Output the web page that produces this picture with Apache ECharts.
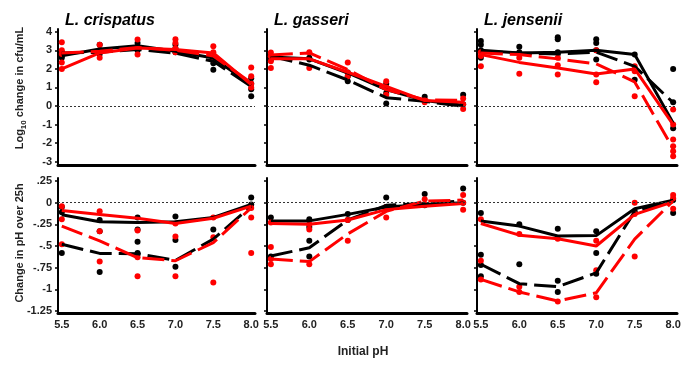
<!DOCTYPE html>
<html>
<head>
<meta charset="utf-8">
<script src="https://cdn.jsdelivr.net/npm/echarts@6/dist/echarts.min.js"></script>
<style>
  html, body { margin: 0; padding: 0; background: #fff; }
  #chart { width: 694px; height: 366px; }
</style>
</head>
<body>
<div id="chart"></div>
<script>
// x categories (initial pH) and axis ticks
const PH = [5.5, 6.0, 6.5, 7.0, 7.5, 8.0];
const panelTitles = ['L. crispatus', 'L. gasseri', 'L. jensenii'];
const cfuTicks = [4, 3, 2, 1, 0, -1, -2, -3];
const phTicks = [0.25, 0, -0.25, -0.5, -0.75, -1, -1.25];

// top row: log10 change in cfu/mL (means)
const crispCfuBlack = [2.71, 3.07, 3.25, 2.95, 2.59, 1.15];
const crispCfuBlackDash = [2.85, 2.9, 3.05, 2.85, 2.41, 1.06];
const crispCfuRed = [2.0, 2.86, 3.13, 3.04, 2.86, 1.15];
const crispCfuRedDash = [2.86, 2.95, 3.15, 3.0, 2.7, 1.25];

const gassCfuBlack = [2.64, 2.54, 1.78, 0.88, 0.29, 0.04];
const gassCfuBlackDash = [2.68, 2.2, 1.4, 0.45, 0.25, -0.02];
const gassCfuRed = [2.54, 2.54, 1.82, 1.06, 0.29, 0.2];
const gassCfuRedDash = [2.75, 2.86, 1.96, 0.88, 0.34, 0.3];

const jensCfuBlack = [3.0, 2.86, 2.9, 3.0, 2.77, -0.91];
const jensCfuBlackDash = [2.95, 2.85, 2.8, 2.9, 2.14, 0.18];
const jensCfuRed = [2.77, 2.35, 2.05, 1.73, 2.0, -1.0];
const jensCfuRedDash = [2.86, 2.77, 2.54, 2.27, 1.3, -2.3];

// top row replicates (one list per pH)
const crispCfuBlackPts = [[2.7, 2.9, 2.6], [3.3, 3.0, 2.8], [3.4, 3.2, 3.0], [3.3, 3.1, 2.9], [2.5, 2.3, 1.96], [0.52, 1.2, 1.5, 0.9]];
const crispCfuRedPts = [[3.43, 3.0, 2.8, 2.35, 2.0], [3.3, 3.0, 2.6], [3.58, 3.1, 2.77], [3.6, 3.4, 3.1, 2.9], [3.22, 2.9, 2.5], [2.08, 1.6, 1.2, 1.0]];
const gassCfuBlackPts = [[2.7, 2.5], [2.6, 2.5], [1.33, 1.8, 1.6], [0.13, 0.7, 1.2], [0.5, 0.3], [0.61, 0.1]];
const gassCfuRedPts = [[2.89, 2.68, 2.41, 2.05], [2.9, 2.05], [2.35, 1.8, 1.6], [1.33, 1.0, 0.6], [0.3, 0.2], [0.4, 0.1, -0.16]];
const jensCfuBlackPts = [[3.5, 3.3, 3.0, 2.6], [3.2, 2.9], [3.7, 3.6, 2.9], [3.6, 3.4, 3.0, 2.5], [2.77, 1.42], [2.0, 0.2, -1.2]];
const jensCfuRedPts = [[2.9, 2.7, 2.14], [2.6, 1.74], [2.6, 2.2, 1.7], [3.0, 1.7, 1.28], [2.14, 1.87, 0.52], [-0.19, -1.0, -1.8, -2.17, -2.44, -2.71]];

// bottom row: change in pH over 25h (means)
const crispPhBlack = [-0.14, -0.22, -0.23, -0.22, -0.17, -0.02];
const crispPhBlackDash = [-0.48, -0.585, -0.59, -0.665, -0.42, -0.04];
const crispPhRed = [-0.09, -0.135, -0.18, -0.24, -0.18, -0.04];
const crispPhRedDash = [-0.27, -0.44, -0.635, -0.67, -0.46, -0.06];

const gassPhBlack = [-0.21, -0.21, -0.135, -0.05, -0.02, 0.0];
const gassPhBlackDash = [-0.615, -0.52, -0.2, -0.03, -0.01, 0.02];
const gassPhRed = [-0.24, -0.25, -0.2, -0.08, -0.04, -0.01];
const gassPhRedDash = [-0.65, -0.68, -0.36, -0.1, 0.02, 0.03];

const jensPhBlack = [-0.21, -0.27, -0.385, -0.38, -0.07, 0.03];
const jensPhBlackDash = [-0.71, -0.935, -0.97, -0.81, -0.1, 0.02];
const jensPhRed = [-0.24, -0.375, -0.415, -0.5, -0.135, 0.01];
const jensPhRedDash = [-0.885, -1.03, -1.135, -1.04, -0.42, 0.02];

// bottom row replicates
const crispPhBlackPts = [[-0.05, -0.11, -0.58], [-0.2, -0.33, -0.8], [-0.17, -0.31, -0.45, -0.58], [-0.16, -0.43, -0.74], [-0.31], [0.06, -0.02]];
const crispPhRedPts = [[-0.04, -0.19, -0.48], [-0.1, -0.33, -0.68], [-0.32, -0.63, -0.85], [-0.24, -0.39, -0.85], [-0.17, -0.4, -0.92], [-0.06, -0.17, -0.58]];
const gassPhBlackPts = [[-0.17, -0.62], [-0.19, -0.28, -0.44, -0.62], [-0.13, -0.2], [0.06, -0.05], [0.1, -0.03], [0.165, 0.0]];
const gassPhRedPts = [[-0.23, -0.51, -0.65, -0.71], [-0.25, -0.31, -0.71], [-0.2, -0.44], [-0.17, -0.05], [0.04, -0.02], [0.09, -0.08, 0.0]];
const jensPhBlackPts = [[-0.12, -0.6, -0.72, -0.85], [-0.25, -0.71], [-0.3, -0.9, -1.03], [-0.33, -0.58, -0.82], [-0.1], [-0.12, 0.03]];
const jensPhRedPts = [[-0.19, -0.67, -0.885], [-0.36, -0.97, -1.03], [-0.415, -1.14], [-0.44, -0.78, -1.09], [0.0, -0.62, -0.13], [0.09, -0.07, 0.05]];

const panels = [
  { lines: [crispCfuBlack, crispCfuBlackDash, crispCfuRed, crispCfuRedDash], dots: [crispCfuBlackPts, crispCfuRedPts] },
  { lines: [gassCfuBlack, gassCfuBlackDash, gassCfuRed, gassCfuRedDash], dots: [gassCfuBlackPts, gassCfuRedPts] },
  { lines: [jensCfuBlack, jensCfuBlackDash, jensCfuRed, jensCfuRedDash], dots: [jensCfuBlackPts, jensCfuRedPts] },
  { lines: [crispPhBlack, crispPhBlackDash, crispPhRed, crispPhRedDash], dots: [crispPhBlackPts, crispPhRedPts] },
  { lines: [gassPhBlack, gassPhBlackDash, gassPhRed, gassPhRedDash], dots: [gassPhBlackPts, gassPhRedPts] },
  { lines: [jensPhBlack, jensPhBlackDash, jensPhRed, jensPhRedDash], dots: [jensPhBlackPts, jensPhRedPts] }
];

const FONT = 'Liberation Sans, Arial, sans-serif';
const colLeft = [58, 267, 477];
const colWidth = [197, 200, 200];
const rowTop = [29, 178];
const rowHeight = [136, 135];

const fmtPh = v => (v === 0 ? '0' : String(v).replace('0.', '.'));

const grids = [], xAxes = [], yAxes = [], series = [];
panels.forEach((p, i) => {
  const row = Math.floor(i / 3), col = i % 3;
  grids.push({ left: colLeft[col], top: rowTop[row], width: colWidth[col], height: rowHeight[row], outerBoundsMode: 'none' });
  xAxes.push({
    type: 'value', gridIndex: i, min: 5.45, max: 8.05,
    axisLine: { onZero: false, lineStyle: { color: '#000', width: 3 } },
    axisTick: { show: false },
    splitLine: { show: false },
    axisLabel: {
      show: row === 1, customValues: PH, margin: 6,
      formatter: v => v.toFixed(1),
      color: '#222', fontSize: 11, fontWeight: 'bold', fontFamily: FONT
    }
  });
  yAxes.push({
    type: 'value', gridIndex: i,
    min: row === 0 ? -3.18 : -1.273, max: row === 0 ? 4.15 : 0.285,
    axisLine: { show: true, onZero: false, lineStyle: { color: '#000', width: 2 } },
    axisTick: { show: true, length: 3, customValues: row === 0 ? cfuTicks : phTicks, lineStyle: { color: '#000', width: 1.5 } },
    splitLine: { show: false },
    axisLabel: {
      show: col === 0, customValues: row === 0 ? cfuTicks : phTicks, margin: 6,
      formatter: row === 0 ? (v => String(v)) : fmtPh,
      color: '#222', fontSize: 11, fontWeight: 'bold', fontFamily: FONT
    }
  });

  const pts = arr => arr.flatMap((vals, k) => vals.map(v => [PH[k], v]));
  const line = (vals, color, dashed) => ({
    type: 'line', xAxisIndex: i, yAxisIndex: i, silent: true, animation: false,
    symbol: 'none', data: PH.map((x, k) => [x, vals[k]]),
    lineStyle: { color: color, width: 3, type: dashed ? [22, 7] : 'solid' }
  });
  const dot = (arr, color) => ({
    type: 'scatter', xAxisIndex: i, yAxisIndex: i, silent: true, animation: false,
    symbol: 'circle', symbolSize: 6, data: pts(arr), itemStyle: { color: color, opacity: 1 }
  });

  const blackDots = dot(p.dots[0], '#000');
  blackDots.markLine = {
    silent: true, symbol: ['none', 'none'], label: { show: false }, animation: false,
    lineStyle: { color: '#333', width: 1, type: [2, 2] },
    data: [{ yAxis: 0 }]
  };
  series.push(blackDots);
  series.push(line(p.lines[0], '#000', false));
  series.push(line(p.lines[1], '#000', true));
  series.push(dot(p.dots[1], '#ff0000'));
  series.push(line(p.lines[2], '#ff0000', false));
  series.push(line(p.lines[3], '#ff0000', true));
});

const titleFont = 'italic bold 16px ' + FONT;
const graphics = panelTitles.map((t, c) => ({
  type: 'text', left: colLeft[c] + 7, top: 13,
  style: { text: t, font: titleFont, fill: '#000' }
}));
graphics.push({
  type: 'text', x: 20, y: 88, rotation: Math.PI / 2,
  style: {
    text: '{a|Log}{s|10}{a| change in cfu/mL}', align: 'center', verticalAlign: 'middle',
    rich: {
      a: { fontSize: 11, fontWeight: 'bold', fontFamily: FONT, fill: '#222', lineHeight: 16, verticalAlign: 'middle' },
      s: { fontSize: 8, fontWeight: 'bold', fontFamily: FONT, fill: '#222', lineHeight: 16, verticalAlign: 'bottom' }
    }
  }
});
graphics.push({
  type: 'text', x: 20, y: 243, rotation: Math.PI / 2,
  style: { text: 'Change in pH over 25h', align: 'center', verticalAlign: 'middle', font: 'bold 11px ' + FONT, fill: '#222' }
});
graphics.push({
  type: 'text', x: 363, y: 352,
  style: { text: 'Initial pH', align: 'center', verticalAlign: 'middle', font: 'bold 12px ' + FONT, fill: '#222' }
});

const chart = echarts.init(document.getElementById('chart'));
chart.setOption({
  animation: false,
  grid: grids,
  xAxis: xAxes,
  yAxis: yAxes,
  series: series,
  graphic: graphics
});
window.addEventListener('resize', () => chart.resize());
</script>
</body>
</html>
